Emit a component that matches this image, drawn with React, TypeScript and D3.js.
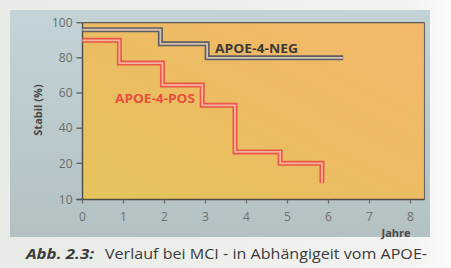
import React from "react";
import * as d3 from "d3";

const xTicks = [0, 1, 2, 3, 4, 5, 6, 7, 8];
const yTicks = [10, 20, 40, 60, 80, 100];

const negTimes = [0, 1.9, 3.04, 6.36];
const negValues = [96, 88, 80, 80];

const posTimes = [0, 0.9, 1.95, 2.92, 3.72, 4.82, 5.84];
const posValues = [90, 77, 64.5, 53, 26.5, 20, 14.5];

const W = 451;
const H = 268;

export default function App() {
  const x = d3.scaleLinear().domain([0, 8]).range([82.5, 410.5]);
  const y = d3.scaleLinear().domain([10, 20, 100]).range([199.5, 163.3, 22.7]);

  const line = d3
    .line<[number, number]>()
    .x((d) => x(d[0]))
    .y((d) => y(d[1]))
    .curve(d3.curveStepAfter);

  const negPath = line(negTimes.map((t, i) => [t, negValues[i]]) as [number, number][]) || "";
  const posPath = line(posTimes.map((t, i) => [t, posValues[i]]) as [number, number][]) || "";

  const plotLeft = x(0);
  const plotRight = 424.5;
  const plotTop = y(100);
  const plotBottom = y(10);

  const font = "'Open Sans', 'DejaVu Sans', sans-serif";

  return (
    <svg
      width={W}
      height={H}
      style={{ position: "absolute", left: 0, top: 0 }}
      fontFamily={font}
    >
      <defs>
        <linearGradient id="bgPanel" x1="0" y1="0" x2="0" y2="1">
          <stop offset="0" stopColor="#c3d3d7" />
          <stop offset="1" stopColor="#b3c1c3" />
        </linearGradient>
        <linearGradient id="plotFill" x1="0" y1="1" x2="1" y2="0">
          <stop offset="0" stopColor="#e4c45c" />
          <stop offset="0.5" stopColor="#ecbc62" />
          <stop offset="1" stopColor="#f3b86c" />
        </linearGradient>
        <linearGradient id="page" x1="0" y1="0" x2="1" y2="0">
          <stop offset="0" stopColor="#e9ebe6" />
          <stop offset="0.9" stopColor="#f2f2ef" />
          <stop offset="1" stopColor="#fbfbfa" />
        </linearGradient>
      </defs>

      <rect x={0} y={0} width={W} height={H} fill="url(#page)" />
      <rect x={10} y={10} width={420} height={227} fill="url(#bgPanel)" />

      <rect
        x={plotLeft}
        y={plotTop}
        width={plotRight - plotLeft}
        height={plotBottom - plotTop}
        fill="url(#plotFill)"
      />

      {/* frame top and right */}
      <line x1={plotLeft} x2={plotRight} y1={plotTop} y2={plotTop} stroke="#5a5656" strokeWidth={1.3} />
      <line x1={plotRight} x2={plotRight} y1={plotTop} y2={plotBottom} stroke="#6a6464" strokeWidth={1.1} />

      {/* axes */}
      <line x1={plotLeft} x2={plotLeft} y1={plotTop} y2={plotBottom} stroke="#4e4a48" strokeWidth={1.4} />
      <line x1={plotLeft - 6} x2={plotRight} y1={plotBottom} y2={plotBottom} stroke="#4e4a48" strokeWidth={1.4} />

      {yTicks.map((t) => (
        <g key={"y" + t}>
          <line x1={plotLeft - 6} x2={plotLeft} y1={y(t)} y2={y(t)} stroke="#555" strokeWidth={1.2} />
          <text
            x={plotLeft - 10}
            y={y(t)}
            dy="0.35em"
            textAnchor="end"
            fontSize={12}
            fill="#6b6b6b"
          >
            {t}
          </text>
        </g>
      ))}

      {xTicks.map((t) => (
        <g key={"x" + t}>
          <line x1={x(t)} x2={x(t)} y1={plotBottom} y2={plotBottom + 4} stroke="#666" strokeWidth={1.2} />
          <text x={x(t)} y={217} dy="0.35em" textAnchor="middle" fontSize={12} fill="#707070">
            {t}
          </text>
        </g>
      ))}

      <text x={396} y={233} dy="0.35em" textAnchor="middle" fontSize={11} fontWeight="bold" fill="#4a4a4a">
        Jahre
      </text>
      <text
        transform="translate(38,110) rotate(-90)"
        textAnchor="middle"
        dy="0.35em"
        fontSize={11}
        fontWeight="bold"
        fill="#4a4a4a"
      >
        Stabil (%)
      </text>

      {/* NEG curve (double line) */}
      <path d={negPath} fill="none" stroke="#615d62" strokeWidth={5} />
      <path d={negPath} fill="none" stroke="#d4c2b2" strokeWidth={1.8} />

      {/* POS curve (double line) */}
      <path d={posPath} fill="none" stroke="#ea5648" strokeWidth={5} />
      <path d={posPath} fill="none" stroke="#f7b39c" strokeWidth={1.8} />

      <text
        x={215}
        y={49}
        dy="0.35em"
        fontSize={11.5}
        fontWeight="bold"
        fill="#3e3a38"
        textLength={83}
        lengthAdjust="spacingAndGlyphs"
      >
        APOE-4-NEG
      </text>
      <text
        x={115}
        y={99}
        dy="0.35em"
        fontSize={11.5}
        fontWeight="bold"
        fill="#e8503e"
        textLength={80}
        lengthAdjust="spacingAndGlyphs"
      >
        APOE-4-POS
      </text>

      {/* caption */}
      <text x={26} y={259} fontSize={14.5} fill="#3c3c3c">
        <tspan fontWeight="bold" fontStyle="italic" textLength={68} lengthAdjust="spacingAndGlyphs">
          Abb. 2.3:
        </tspan>
        <tspan x={105} textLength={322} lengthAdjust="spacingAndGlyphs">
          Verlauf bei MCI - in Abhängigeit vom APOE-
        </tspan>
      </text>
      <text x={26} y={277.5} fontSize={14.5} fill="#3c3c3c">
        Status
      </text>
    </svg>
  );
}
